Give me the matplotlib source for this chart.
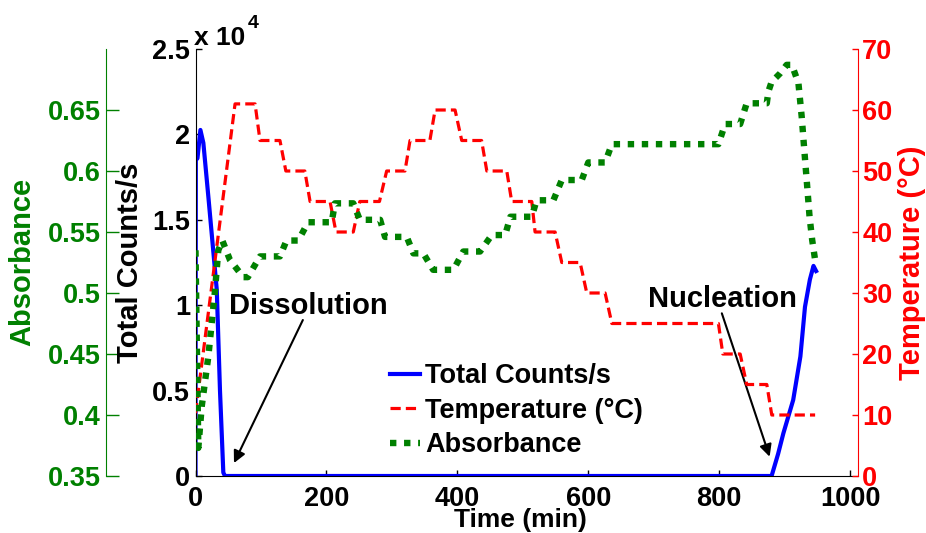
import numpy as np
import matplotlib
matplotlib.use('Agg')
import matplotlib.pyplot as plt
from matplotlib.ticker import FuncFormatter
from matplotlib.lines import Line2D

plt.rcParams['font.family'] = ['Liberation Sans', 'DejaVu Sans']
plt.rcParams['font.weight'] = 'bold'
plt.rcParams['axes.labelweight'] = 'bold'

# ---------------- data ----------------
time_counts = [0, 0.5, 3, 7.5, 12, 20, 32.5, 37.4, 42.5, 45,
               880, 890, 898, 913, 924, 931, 938.5, 944, 948]
counts = [0, 18500, 18600, 20260, 19500, 16200, 10900, 5000, 200, 0,
          0, 1300, 2500, 4450, 7000, 9900, 11500, 12300, 12000]

time_temp = [0, 60.4, 91, 98.5, 129, 138, 167, 175, 205.5, 214.6, 241, 251, 281,
             292, 320, 327.7, 358, 366, 396.5, 406.7, 437, 445, 475.5, 483, 513.7,
             518.7, 549.3, 559.5, 587.5, 597.7, 625.7, 636, 798.8, 805.5, 832, 842,
             872.7, 880.3, 946.5]
temperature = [10.3, 61, 61, 55, 55, 50, 50, 45, 45, 40, 40, 45, 45,
               50, 50, 55, 55, 60, 60, 55, 55, 50, 50, 45, 45,
               40, 40, 35, 35, 30, 30, 25, 25, 20, 20, 15,
               15, 10, 10]

time_abs = [0, 4.3, 9.5, 19.6, 29.8, 34.8, 41, 52.7, 73, 80, 98.5, 129, 139, 157,
            172, 208, 213, 241, 251, 282, 289.5, 322.7, 332.8, 348, 363, 394, 409,
            434.7, 452.6, 473, 481, 513.7, 521, 546.7, 559.5, 590, 600, 625.7, 636,
            798.8, 809, 832, 842, 872.7, 875, 880, 893, 903, 911, 921, 926, 930,
            934, 938, 942, 946.5]
absorbance = [0.535, 0.373, 0.407, 0.448, 0.502, 0.535, 0.543, 0.527, 0.513, 0.513,
              0.530, 0.530, 0.543, 0.543, 0.558, 0.558, 0.5735, 0.5735, 0.56, 0.56,
              0.546, 0.546, 0.5325, 0.5325, 0.519, 0.519, 0.534, 0.534, 0.5475,
              0.5475, 0.5625, 0.5625, 0.576, 0.576, 0.5926, 0.5926, 0.607, 0.607,
              0.622, 0.622, 0.6385, 0.6385, 0.6555, 0.6555, 0.665, 0.673, 0.68,
              0.687, 0.687, 0.672, 0.6445, 0.617, 0.59, 0.5625, 0.5435, 0.527]

x_ticks = [0, 200, 400, 600, 800, 1000]
count_ticks = [0, 5000, 10000, 15000, 20000, 25000]
temp_ticks = [0, 10, 20, 30, 40, 50, 60, 70]
abs_ticks = [0.35, 0.40, 0.45, 0.50, 0.55, 0.60, 0.65]

labels = ['Total Counts/s', 'Temperature (\u00b0C)', 'Absorbance']

# ---------------- figure ----------------
W, H = 926, 533
fig = plt.figure(figsize=(W / 100, H / 100), dpi=100)
L, R, B, T = 195.5 / W, 858 / W, 1 - 476 / H, 1 - 49 / H
ax = fig.add_axes([L, B, R - L, T - B])
ax2 = ax.twinx()
ax3 = ax.twinx()

GREEN = (0, 0.5, 0)
BLUE = (0, 0, 1)
RED = (1, 0, 0)

blue_style = dict(color=BLUE, lw=3.0, linestyle='-')
red_style = dict(color=RED, lw=2.3, linestyle=(0, (3.2, 1.6)))
green_style = dict(color=GREEN, lw=4.6, linestyle=(0, (1.0, 1.2)), dash_capstyle='butt')

ax.plot(time_counts, counts, **blue_style)
ax2.plot(time_temp, temperature, **red_style)
ax3.plot(time_abs, absorbance, **green_style)

TICK_FS = 19.5

# main axis
ax.set_xlim(0, 1012)
ax.set_ylim(0, 25000)
ax.set_xticks(x_ticks)
ax.set_yticks(count_ticks)
ax.yaxis.set_major_formatter(FuncFormatter(lambda v, p: '%g' % (v / 1e4)))
ax.spines['top'].set_visible(False)
ax.spines['right'].set_visible(False)
ax.yaxis.set_ticks_position('left')
ax.xaxis.set_ticks_position('bottom')
ax.tick_params(axis='both', direction='in', length=4, width=1, labelsize=TICK_FS, colors='k')
ax.tick_params(axis='x', pad=7)
ax.tick_params(axis='y', pad=4)

# temperature axis
ax2.set_ylim(0, 70)
ax2.set_yticks(temp_ticks)
for s in ['top', 'left', 'bottom']:
    ax2.spines[s].set_visible(False)
ax2.spines['right'].set_color(RED)
ax2.tick_params(axis='y', direction='in', length=4, width=1, labelsize=TICK_FS,
                colors=RED, pad=3)

# absorbance axis
ax3.set_ylim(0.35, 0.70)
ax3.set_yticks(abs_ticks)
ax3.yaxis.set_major_formatter(FuncFormatter(lambda v, p: '%g' % round(v, 2)))
for s in ['top', 'right', 'bottom']:
    ax3.spines[s].set_visible(False)
ax3.spines['left'].set_visible(True)
ax3.spines['left'].set_position(('axes', (106 - 195.5) / (858 - 195.5)))
ax3.spines['left'].set_color(GREEN)
ax3.yaxis.set_ticks_position('left')
ax3.yaxis.set_label_position('left')
ax3.tick_params(axis='y', direction='in', length=9, width=1, labelsize=TICK_FS,
                colors=GREEN, pad=4)

# axis labels
fig.text(22 / W, 1 - 262 / H, 'Absorbance', rotation=90, ha='center', va='center',
         fontsize=21, color=GREEN, fontweight='bold')
fig.text(130 / W, 1 - 263 / H, 'Total Counts/s', rotation=90, ha='center', va='center',
         fontsize=21, color='k', fontweight='bold')
fig.text(912 / W, 1 - 263 / H, 'Temperature (\u00b0C)', rotation=90, ha='center',
         va='center', fontsize=21, color=RED, fontweight='bold')
fig.text(520 / W, 1 - 527 / H, 'Time (min)', ha='center', va='baseline',
         fontsize=19, color='k', fontweight='bold')

# exponent
fig.text(194 / W, 1 - 45 / H, 'x 10', ha='left', va='baseline', fontsize=19,
         fontweight='bold')
fig.text(248 / W, 1 - 28 / H, '4', ha='left', va='baseline', fontsize=14,
         fontweight='bold')

# annotations
arrow = dict(arrowstyle='-|>', color='k', lw=1.5, mutation_scale=18,
             shrinkA=0, shrinkB=0)
ax.annotate('', xy=(58.8, 760), xytext=(164, 9133), arrowprops=arrow)
ax.annotate('', xy=(877, 1130), xytext=(804, 9525), arrowprops=arrow)
fig.text(229 / W, 1 - 314 / H, 'Dissolution', ha='left', va='baseline',
         fontsize=21, fontweight='bold')
fig.text(648 / W, 1 - 307 / H, 'Nucleation', ha='left', va='baseline',
         fontsize=21, fontweight='bold')

# legend
handles = [Line2D([], [], **blue_style), Line2D([], [], **red_style),
           Line2D([], [], **green_style)]
leg = ax3.legend(handles, labels, loc='upper left',
                 bbox_to_anchor=(390 / W, 1 - 363 / H), bbox_transform=fig.transFigure,
                 frameon=False, fontsize=19.5, handlelength=1.1, handletextpad=0.2,
                 labelspacing=0.32, borderpad=0, borderaxespad=0)

fig.savefig('out.png', dpi=100)
